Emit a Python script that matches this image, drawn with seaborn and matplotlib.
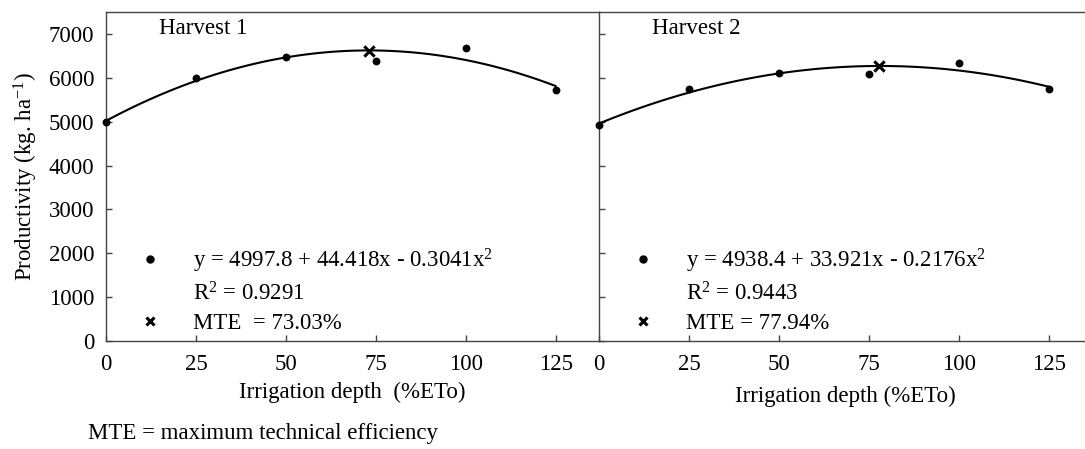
import numpy as np
import pandas as pd
import matplotlib
matplotlib.use("Agg")
import matplotlib.pyplot as plt
import seaborn as sns
from matplotlib.lines import Line2D

# ---- data ----
depth = [0, 25, 50, 75, 100, 125]
harvest1 = [5000, 5990, 6480, 6390, 6670, 5720]
harvest2 = [4920, 5750, 6110, 6090, 6330, 5750]
mte1_x, mte1_y = 73.03, 6620
mte2_x, mte2_y = 77.94, 6260
panel_titles = ["Harvest 1", "Harvest 2"]
equations = ["y = 4997.8 + 44.418x - 0.3041x$^{2}$", "y = 4938.4 + 33.921x - 0.2176x$^{2}$"]
r2_labels = ["R$^{2}$ = 0.9291", "R$^{2}$ = 0.9443"]
mte_labels = ["MTE  = 73.03%", "MTE = 77.94%"]
xlabels = ["Irrigation depth  (%ETo)", "Irrigation depth (%ETo)"]
xticks = [0, 25, 50, 75, 100, 125]
yticks = [0, 1000, 2000, 3000, 4000, 5000, 6000, 7000]

sns.set_style("ticks")
plt.rcParams["font.family"] = ["Liberation Serif", "DejaVu Serif"]
plt.rcParams["mathtext.fontset"] = "custom"
plt.rcParams["mathtext.rm"] = "Liberation Serif"
plt.rcParams["mathtext.it"] = "Liberation Serif:italic"
plt.rcParams["mathtext.bf"] = "Liberation Serif:bold"
plt.rcParams["font.size"] = 16.5
for k in ["text.color", "axes.labelcolor", "xtick.labelcolor", "ytick.labelcolor"]:
    plt.rcParams[k] = "black"

FS = 16.5
fig = plt.figure(figsize=(10.85, 4.49), dpi=100)
W, H = 1085, 449
axL = fig.add_axes([106 / W, (449 - 341) / H, 493 / W, 329 / H])
axR = fig.add_axes([599 / W, (449 - 341) / H, 493 / W, 329 / H])

spine_col = "#444444"
datasets = [
    (axL, harvest1, mte1_x, mte1_y),
    (axR, harvest2, mte2_x, mte2_y),
]
for i, (ax, vals, mx, my) in enumerate(datasets):
    df = pd.DataFrame({"depth": depth, "prod": vals})
    sns.regplot(data=df, x="depth", y="prod", order=2, ci=None, scatter=False,
                ax=ax, line_kws=dict(color="black", lw=1.5))
    sns.scatterplot(data=df, x="depth", y="prod", ax=ax, color="black",
                    s=32, edgecolor="black", linewidth=0, zorder=3, clip_on=False)
    sns.scatterplot(x=[mx], y=[my], ax=ax, marker="x", color="black", s=55,
                    linewidth=2.2, zorder=4)
    ax.set_xlim(0, 137)
    ax.set_ylim(0, 7500)
    ax.set_xticks(xticks)
    ax.set_yticks(yticks)
    ax.tick_params(direction="in", length=4, width=1, color=spine_col,
                   labelsize=FS, labelcolor="black")
    ax.tick_params(axis="x", pad=9.5)
    ax.tick_params(axis="y", pad=8.5)
    for sp in ax.spines.values():
        sp.set_color(spine_col)
        sp.set_linewidth(1)
    ax.set_ylabel("")
    ax.set_xlabel(xlabels[i], fontsize=FS, labelpad=5 if i == 0 else 8)
    ax.text(0.108, 0.95, panel_titles[i], transform=ax.transAxes,
            fontsize=FS, va="center", ha="left")
    handles = [
        Line2D([], [], marker="o", color="black", linestyle="none", markersize=5),
        Line2D([], [], marker="", linestyle="none"),
        Line2D([], [], marker="x", color="black", linestyle="none", markersize=6,
               markeredgewidth=2.2),
    ]
    ax.legend(handles, [equations[i], r2_labels[i], mte_labels[i]],
              loc="lower left", bbox_to_anchor=(0.06, 0.02), frameon=False,
              fontsize=FS, handlelength=1.3, handletextpad=1.2, borderpad=0,
              borderaxespad=0, labelspacing=0.34)

axL.spines["right"].set_visible(False)
axR.set_yticklabels([])
axL.set_ylabel("Productivity (kg. ha$^{-1}$)", fontsize=FS, labelpad=6)

fig.text(88 / W, 1 - 433 / H, "MTE = maximum technical efficiency",
         fontsize=FS, ha="left", va="center")

fig.savefig("out.png", dpi=100)
